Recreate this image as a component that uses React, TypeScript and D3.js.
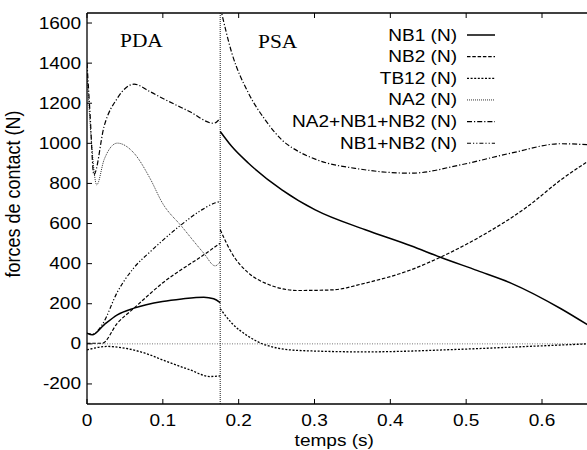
import React from "react";
import * as d3 from "d3";

const SPLIT = 0.1757;

const nb1PreT = [0, 0.007, 0.0225, 0.04, 0.062, 0.0995, 0.125, 0.154, 0.167, SPLIT];
const nb1PreV = [53, 45, 95, 145, 178, 211, 224, 233, 225, 206];
const nb1PostT = [SPLIT, 0.191, 0.213, 0.257, 0.301, 0.367, 0.427, 0.466, 0.515, 0.559, 0.625, 0.66];
const nb1PostV = [1059, 984, 901, 768, 668, 569, 489, 432, 365, 303, 175, 95];

const nb2PreT = [0, 0.02, 0.04, 0.062, 0.0995, 0.154, SPLIT];
const nb2PreV = [3, 3, 103, 178, 303, 444, 502];
const nb2PostT = [SPLIT, 0.191, 0.213, 0.235, 0.279, 0.323, 0.367, 0.427, 0.466, 0.515, 0.581, 0.625, 0.66];
const nb2PostV = [569, 452, 353, 303, 266, 269, 303, 369, 432, 527, 685, 818, 909];

const tb12PreT = [0, 0.027, 0.049, 0.083, 0.0995, 0.136, 0.162, SPLIT];
const tb12PreV = [-30, -13, -21, -55, -80, -130, -163, -160];
const tb12PostT = [SPLIT, 0.191, 0.213, 0.235, 0.279, 0.367, 0.493, 0.581, 0.66];
const tb12PostV = [175, 103, 37, -5, -33, -40, -27, -13, 0];

const na2PreT = [0, 0.006, 0.0128, 0.0225, 0.04, 0.062, 0.083, 0.0995, 0.125, 0.154, 0.169, SPLIT];
const na2PreV = [1350, 1000, 793, 918, 1001, 951, 826, 702, 585, 452, 389, 410];

const sumPreT = [0, 0.004, 0.009, 0.0225, 0.04, 0.062, 0.083, 0.0995, 0.135, 0.167, SPLIT];
const sumPreV = [1400, 1150, 843, 1084, 1225, 1295, 1258, 1225, 1159, 1100, 1125];
const sumPostT = [SPLIT, 0.191, 0.213, 0.235, 0.257, 0.279, 0.301, 0.361, 0.427, 0.493, 0.559, 0.625, 0.66];
const sumPostV = [1680, 1450, 1250, 1117, 1017, 959, 921, 871, 851, 893, 951, 998, 993];

const nbSumPreT = [0, 0.007, 0.02, 0.04, 0.062, 0.083, 0.0995, 0.123, 0.15, 0.167, SPLIT];
const nbSumPreV = [53, 48, 95, 258, 380, 458, 515, 590, 665, 700, 710];

const xTicks = [0, 0.1, 0.2, 0.3, 0.4, 0.5, 0.6];
const yTicks = [-200, 0, 200, 400, 600, 800, 1000, 1200, 1400, 1600];

const legendLabels = ["NB1 (N)", "NB2 (N)", "TB12 (N)", "NA2 (N)", "NA2+NB1+NB2 (N)", "NB1+NB2 (N)"];

const styles = [
  { dash: "none", w: 1.5, c: "#000" },
  { dash: "3.5,1.8", w: 1.2, c: "#000" },
  { dash: "2,1.6", w: 1.3, c: "#000" },
  { dash: "1,1", w: 1.0, c: "#333" },
  { dash: "5,2,1.2,2", w: 1.2, c: "#000" },
  { dash: "4,2,1.2,2,1.2,2", w: 1.2, c: "#000" },
];

const zip = (t: number[], v: number[]) => t.map((tt, i) => [tt, v[i]] as [number, number]);

const seriesSegments: [number, number][][][] = [
  [zip(nb1PreT, nb1PreV), zip(nb1PostT, nb1PostV)],
  [zip(nb2PreT, nb2PreV), zip(nb2PostT, nb2PostV)],
  [zip(tb12PreT, tb12PreV), zip(tb12PostT, tb12PostV)],
  [zip(na2PreT, na2PreV)],
  [zip(sumPreT, sumPreV), zip(sumPostT, sumPostV)],
  [zip(nbSumPreT, nbSumPreV)],
];

const W = 587, H = 450;
const L = 87, R = 587.5, T = 13, B = 404;
const SX = 1.19;

export default function App() {
  const x = d3.scaleLinear().domain([0, 0.66]).range([L, R]);
  const y = d3.scaleLinear().domain([-300, 1650]).range([B, T]);
  const line = d3
    .line<[number, number]>()
    .x((d) => x(d[0]))
    .y((d) => y(d[1]))
    .curve(d3.curveMonotoneX);
  const sans = "'Liberation Sans', Arial, Helvetica, sans-serif";
  const serif = "'Liberation Serif', 'Times New Roman', serif";
  const txt = (s: string, tx: number, ty: number, anchor: string, size = 16, fam = sans) => (
    <text
      key={s + tx + ty}
      transform={`translate(${tx},${ty}) scale(${SX},1)`}
      textAnchor={anchor as any}
      fontSize={size}
      fontFamily={fam}
      fill="#000"
    >
      {s}
    </text>
  );
  return (
    <svg width={W} height={H} style={{ position: "absolute", left: 0, top: 0, background: "#fff" }}>
      <defs>
        <clipPath id="plot">
          <rect x={L} y={T} width={R - L} height={B - T} />
        </clipPath>
      </defs>
      <rect x={0} y={0} width={W} height={H} fill="#fff" />
      <line x1={L} x2={R} y1={y(0)} y2={y(0)} stroke="#555" strokeWidth={0.8} strokeDasharray="1,1.5" />
      <line x1={x(SPLIT)} x2={x(SPLIT)} y1={T} y2={B} stroke="#444" strokeWidth={1.2} strokeDasharray="1,1" />
      <g clipPath="url(#plot)">
        {seriesSegments.map((segs, i) =>
          segs.map((seg, j) => (
            <path
              key={`${i}-${j}`}
              d={line(seg) || ""}
              fill="none"
              stroke={styles[i].c}
              strokeWidth={styles[i].w}
              strokeDasharray={styles[i].dash}
            />
          ))
        )}
      </g>
      <line x1={L} x2={L} y1={T} y2={B} stroke="#000" strokeWidth={1.3} />
      <line x1={L} x2={R + 5} y1={B} y2={B} stroke="#000" strokeWidth={1.3} />
      <line x1={L} x2={R + 5} y1={T} y2={T} stroke="#000" strokeWidth={1.3} />
      {yTicks.map((v) => (
        <g key={"y" + v}>
          <line x1={L} x2={L + 5} y1={y(v)} y2={y(v)} stroke="#000" strokeWidth={1} />
          {txt(String(v), L - 6, y(v) + 5.5, "end")}
        </g>
      ))}
      {xTicks.map((v) => (
        <g key={"x" + v}>
          <line x1={x(v)} x2={x(v)} y1={B} y2={B - 5} stroke="#000" strokeWidth={1} />
          <line x1={x(v)} x2={x(v)} y1={T} y2={T + 5} stroke="#000" strokeWidth={1} />
          {txt(String(v), x(v), 426, "middle")}
        </g>
      ))}
      {txt("temps (s)", (L + R) / 2 - 3, 446, "middle")}
      <text
        transform={`translate(20,194) scale(1.12,1) rotate(-90)`}
        textAnchor="middle"
        fontSize={18}
        fontFamily={sans}
        fill="#000"
      >
        forces de contact (N)
      </text>
      {txt("PDA", 120, 47, "start", 18, serif)}
      {txt("PSA", 258, 48, "start", 18, serif)}
      {legendLabels.map((s, i) => {
        const ly = 35 + i * 21.65;
        return (
          <g key={s}>
            {txt(s, 457, ly + 5.5, "end")}
            <line
              x1={467}
              x2={495}
              y1={ly}
              y2={ly}
              stroke={styles[i].c}
              strokeWidth={styles[i].w}
              strokeDasharray={styles[i].dash}
            />
          </g>
        );
      })}
    </svg>
  );
}
